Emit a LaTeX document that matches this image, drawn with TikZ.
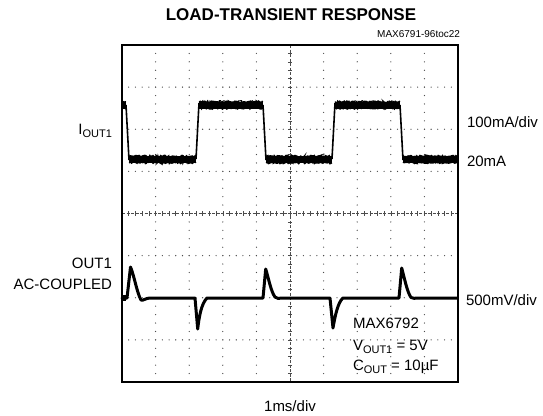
\documentclass[tikz,border=0pt]{standalone}
\usepackage{fontspec}
\setmainfont{Liberation Sans}
\usetikzlibrary{decorations.pathmorphing}
\begin{document}
\begin{tikzpicture}[x=1pt,y=-1pt,
  every node/.style={inner sep=0pt,outer sep=0pt},
  lbl/.style={font=\fontsize{15}{18}\selectfont},
  griddot/.style={fill=black!70},
  bandcore/.style={line width=7pt},
  fuzz/.style={line width=1.1pt,decorate,decoration={random steps,segment length=1pt,amplitude=0.9pt}},
  edge/.style={line width=1.6pt},
  vtrace/.style={line width=3pt,line join=round,line cap=round}]
\pgfmathsetseed{7}
\useasboundingbox (0,0) rectangle (543,415);
% grid dots
\foreach \i in {1,2,3,4,6,7,8,9}{
  \foreach \k in {1,...,39}{
    \fill[griddot] ({122+33.6*\i},{45+8.425*\k}) circle (0.65);
  }
}
\foreach \j in {1,2,3,5,6,7}{
  \foreach \k in {1,...,49}{
    \fill[griddot] ({122+6.72*\k},{45+42.125*\j}) circle (0.65);
  }
}
% centre lines with ticks
\draw[black!70,line width=0.6pt,dash pattern=on 3pt off 1.5pt] (122,213.5) -- (458,213.5);
\draw[black!70,line width=0.6pt,dash pattern=on 3pt off 1.5pt] (290,45) -- (290,382);
\foreach \k in {1,...,49}{
  \draw[black!70,line width=0.6pt] ({122+6.72*\k},211.3) -- ++(0,4.4);
}
\foreach \k in {1,...,39}{
  \draw[black!70,line width=0.6pt] (287.8,{45+8.425*\k}) -- ++(4.4,0);
}
% current trace: flat parts
\foreach \xa/\xb/\yy in {122/126/105, 129/196/159.5, 199/263/105, 266/332/159.5, 335/400/105, 403/457/159.5}{
  \draw[bandcore] (\xa,\yy) -- (\xb,\yy);
  \draw[fuzz] (\xa,\yy-3.4) -- (\xb,\yy-3.4);
  \draw[fuzz] (\xa,\yy+3.4) -- (\xb,\yy+3.4);
}
% current trace: edges
\draw[edge] (126,105) -- (129,160);
\draw[edge] (196,159) -- (199,103);
\draw[edge] (263,105) -- (266,160);
\draw[edge] (332,159) -- (335,103);
\draw[edge] (400,105) -- (403,160);
% voltage trace
\fill (122,294.5) rectangle (126,301);
\draw[vtrace] (122,298) -- (127,298) -- (130.5,267)
  .. controls (134,275) and (137,293) .. (141,300)
  .. controls (143,301) and (146,298) .. (150,298) -- (195,298)
  -- (197.7,329) .. controls (199,318) and (201,304) .. (207,298)
  -- (263,298) -- (265.7,269)
  .. controls (268,276) and (271,292) .. (275,297)
  .. controls (277,299) and (279,298.5) .. (282,298) -- (330,298)
  -- (333,328) .. controls (335,316) and (338,302) .. (343,298)
  -- (399,298) -- (401.7,268)
  .. controls (404,276) and (407,292) .. (411,297.5)
  .. controls (413,299) and (415,298) .. (418,298) -- (457,298);
% frame
\draw[line width=2.2pt] (122,45) rectangle (458,382);
% texts
\node[font=\fontsize{17}{20}\selectfont\bfseries,anchor=base] (title) at (291,20.7) {LOAD-TRANSIENT RESPONSE};
\node[font=\fontsize{10}{12}\selectfont,anchor=base east] (ref) at (460,37.7) {MAX6791-96toc22};
\node[lbl,anchor=base east] (iout) at (112,134) {I\raisebox{-3.2pt}{\fontsize{11}{12}\selectfont OUT1}};
\node[lbl,anchor=base east] (out1) at (112,268) {OUT1};
\node[lbl,anchor=base east] (acc) at (112,289) {AC-COUPLED};
\node[lbl,anchor=base west] (scale1) at (467,127) {100mA/div};
\node[lbl,anchor=base west] (lvl) at (467,166) {20mA};
\node[lbl,anchor=base west] (scale2) at (466,305) {500mV/div};
\node[lbl,anchor=base west] (chip) at (353,328) {MAX6792};
\node[lbl,anchor=base west] (vout) at (353,350) {V\raisebox{-3.2pt}{\fontsize{11}{12}\selectfont OUT1} = 5V};
\node[lbl,anchor=base west] (cout) at (353,370) {C\raisebox{-3.2pt}{\fontsize{11}{12}\selectfont OUT} = 10µF};
\node[lbl,anchor=base] (tdiv) at (290,411) {1ms/div};
\end{tikzpicture}
\end{document}
